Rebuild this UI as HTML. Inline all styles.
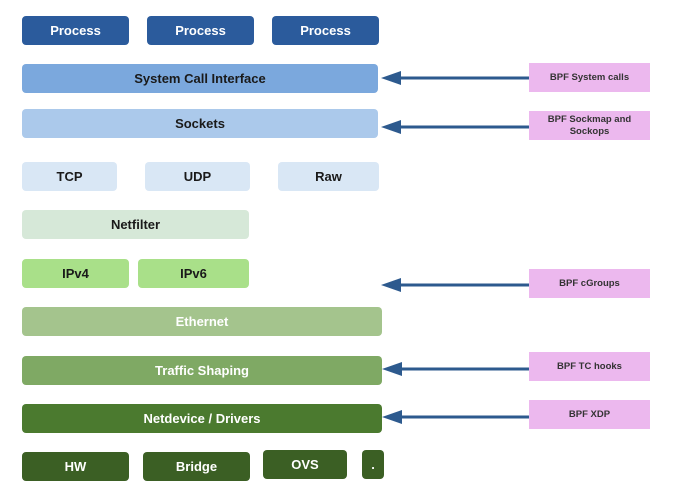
<!DOCTYPE html>
<html><head><meta charset="utf-8"><style>
html,body{margin:0;padding:0;background:#fff;}
body{width:690px;height:495px;position:relative;overflow:hidden;font-family:"Liberation Sans",Arial,sans-serif;font-weight:bold;}
.b{position:absolute;border-radius:4px;display:flex;align-items:center;justify-content:center;font-size:13px;color:#1a1a1a;}
.w{color:#fff;}
.p{position:absolute;background:#ecb8ee;display:flex;align-items:center;justify-content:center;text-align:center;font-size:9.5px;color:#333;line-height:12px;}
</style></head><body>
<div class="b w" style="left:22px;top:16px;width:107px;height:29px;background:#2b5b9c">Process</div>
<div class="b w" style="left:147px;top:16px;width:107px;height:29px;background:#2b5b9c">Process</div>
<div class="b w" style="left:272px;top:16px;width:107px;height:29px;background:#2b5b9c">Process</div>
<div class="b" style="left:22px;top:64px;width:356px;height:29px;background:#7ba8dd">System Call Interface</div>
<div class="b" style="left:22px;top:109px;width:356px;height:29px;background:#abc9eb">Sockets</div>
<div class="b" style="left:22px;top:162px;width:95px;height:29px;background:#d9e7f5">TCP</div>
<div class="b" style="left:145px;top:162px;width:105px;height:29px;background:#d9e7f5">UDP</div>
<div class="b" style="left:278px;top:162px;width:101px;height:29px;background:#d9e7f5">Raw</div>
<div class="b" style="left:22px;top:210px;width:227px;height:29px;background:#d6e8d8">Netfilter</div>
<div class="b" style="left:22px;top:259px;width:107px;height:29px;background:#a9e089">IPv4</div>
<div class="b" style="left:138px;top:259px;width:111px;height:29px;background:#a9e089">IPv6</div>
<div class="b w" style="left:22px;top:307px;width:360px;height:29px;background:#a4c48d">Ethernet</div>
<div class="b w" style="left:22px;top:356px;width:360px;height:29px;background:#7fa964">Traffic Shaping</div>
<div class="b w" style="left:22px;top:404px;width:360px;height:29px;background:#4b7a2f">Netdevice / Drivers</div>
<div class="b w" style="left:22px;top:452px;width:107px;height:29px;background:#3b5f24">HW</div>
<div class="b w" style="left:143px;top:452px;width:107px;height:29px;background:#3b5f24">Bridge</div>
<div class="b w" style="left:263px;top:450px;width:84px;height:29px;background:#3b5f24">OVS</div>
<div class="b w" style="left:362px;top:450px;width:22px;height:29px;background:#3b5f24">.</div>

<div class="p" style="left:529px;top:63px;width:121px;height:29px">BPF System calls</div>
<div class="p" style="left:529px;top:111px;width:121px;height:29px">BPF Sockmap and<br>Sockops</div>
<div class="p" style="left:529px;top:269px;width:121px;height:29px">BPF cGroups</div>
<div class="p" style="left:529px;top:352px;width:121px;height:29px">BPF TC hooks</div>
<div class="p" style="left:529px;top:400px;width:121px;height:29px">BPF XDP</div>

<svg width="690" height="495" style="position:absolute;left:0;top:0">
<g fill="#2d5a8e" stroke="#2d5a8e">
<line x1="398" y1="78" x2="529" y2="78" stroke-width="3"/><polygon points="381,78 401,71 401,85" stroke="none"/>
<line x1="398" y1="127" x2="529" y2="127" stroke-width="3"/><polygon points="381,127 401,120 401,134" stroke="none"/>
<line x1="398" y1="285" x2="529" y2="285" stroke-width="3"/><polygon points="381,285 401,278 401,292" stroke="none"/>
<line x1="398" y1="369" x2="529" y2="369" stroke-width="3"/><polygon points="382,369 402,362 402,376" stroke="none"/>
<line x1="398" y1="417" x2="529" y2="417" stroke-width="3"/><polygon points="382,417 402,410 402,424" stroke="none"/>
</g>
</svg>
</body></html>
